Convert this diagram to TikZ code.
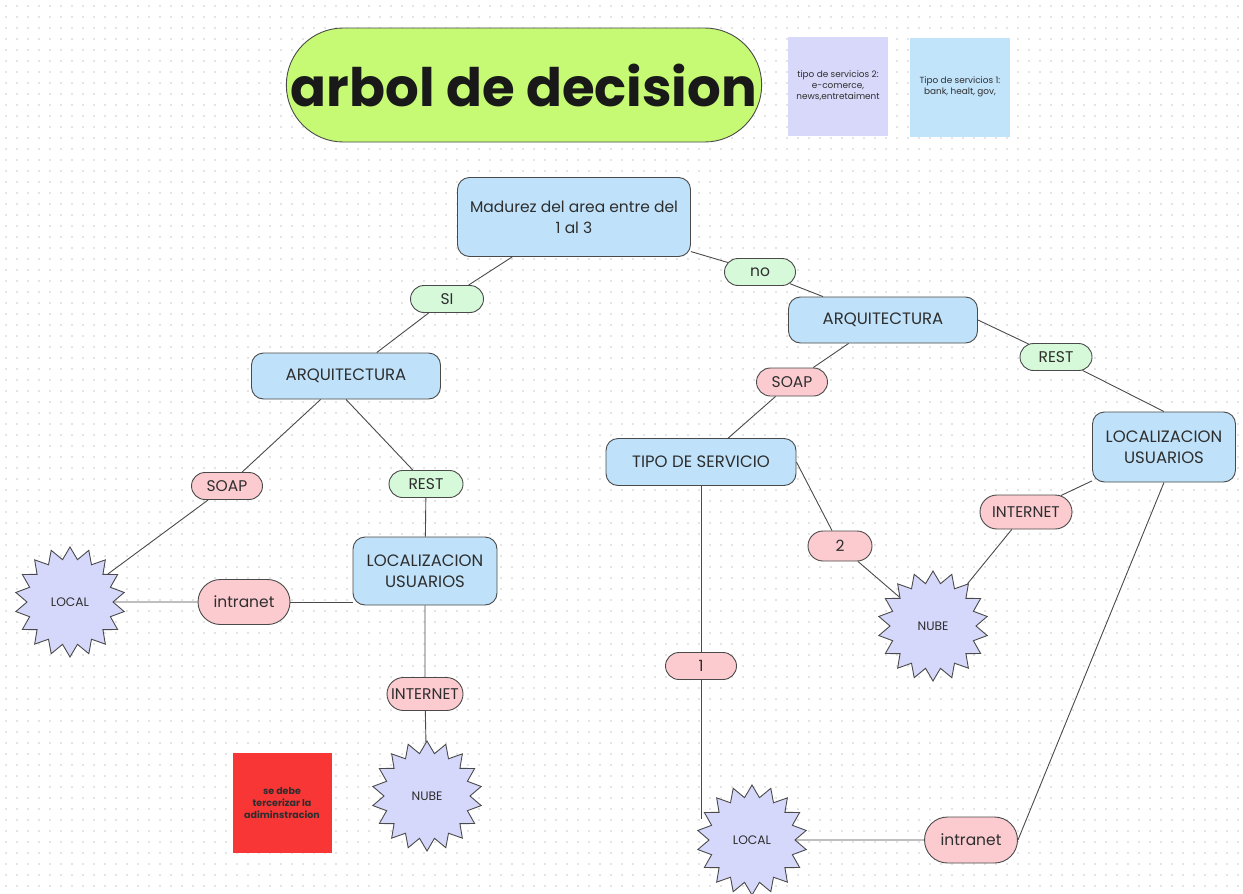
\documentclass[tikz,border=0pt]{standalone}
\usepackage{fontspec}
\setmainfont{Poppins}
\usetikzlibrary{shapes.geometric,shapes.misc}

\definecolor{edge}{HTML}{4A4A4A}
\definecolor{ink}{HTML}{2E2E2E}
\definecolor{lime}{HTML}{C7FA74}
\definecolor{boxblue}{HTML}{BFE2FA}
\definecolor{notelila}{HTML}{D8D8FA}
\definecolor{noteblue}{HTML}{C1E4FB}
\definecolor{pillgreen}{HTML}{D6F9DA}
\definecolor{pillpink}{HTML}{FBCBD0}
\definecolor{starblue}{HTML}{D5D8FB}
\definecolor{alert}{HTML}{F83636}
\definecolor{dotc}{HTML}{E4E4E4}

\begin{document}
\begin{tikzpicture}[x=1pt,y=-1pt]
    % styles of the boxes
    \tikzset{
        box/.style={draw=edge, fill=boxblue, rounded corners=12pt, line width=0.9pt,
            text=ink, align=center, font=\fontsize{16.5}{21}\selectfont},
        pill/.style={draw=edge, rounded rectangle, line width=0.9pt, inner sep=0pt,
            text=ink, font=\fontsize{15.5}{17}\selectfont},
        yes/.style={pill, fill=pillgreen},
        opt/.style={pill, fill=pillpink},
        burst/.style={star, star points=18, star point ratio=1.28, draw=edge, fill=starblue,
            line width=0.9pt, inner sep=0pt, minimum size=110pt, text=ink,
            font=\fontsize{12.3}{14}\selectfont},
        note/.style={minimum width=100pt, minimum height=99pt, inner sep=2pt, align=center,
            text=ink, font=\fontsize{8.9}{11}\selectfont},
        link/.style={draw=edge, line width=0.9pt}
    }

    % page and dotted board
    \useasboundingbox (0,0) rectangle (1243,894);
    \fill[white] (0,0) rectangle (1243,894);
    \foreach \gy in {6,17,...,894}
        \draw[dotc, line width=1.5pt, dash pattern=on 1.5pt off 9.5pt] (5,\gy) -- (1243,\gy);

    % title and notes
    \node[rounded rectangle, draw=edge, fill=lime, line width=0.9pt, minimum width=482pt,
        minimum height=114pt, font=\fontsize{53}{56}\bfseries\selectfont, text=black!90]
        (title) at (524,85) {arbol de decision};
    \node[note, fill=notelila] (notetwo) at (838,86) {tipo de servicios 2:\\e-comerce,\\news,entretaiment};
    \node[note, fill=noteblue] (noteone) at (960,87) {Tipo de servicios 1:\\bank, healt, gov,};

    % decision boxes
    \node[box, minimum width=233pt, minimum height=79pt, font=\fontsize{15.5}{21}\selectfont]
        (root) at (574,217) {Madurez del area entre del\\1 al 3};
    \node[box, minimum width=189pt, minimum height=46pt] (arqL) at (346,376) {ARQUITECTURA};
    \node[box, minimum width=189pt, minimum height=46pt] (arqR) at (883,320) {ARQUITECTURA};
    \node[box, minimum width=144pt, minimum height=68pt] (locuL) at (425,571) {LOCALIZACION\\USUARIOS};
    \node[box, minimum width=143pt, minimum height=70pt] (locuR) at (1164,447) {LOCALIZACION\\USUARIOS};
    \node[box, minimum width=190pt, minimum height=47pt] (tipo) at (701,462) {TIPO DE SERVICIO};

    % answers
    \node[yes, minimum width=73pt, minimum height=27pt] (si) at (447,299) {SI};
    \node[yes, minimum width=71pt, minimum height=27pt] (no) at (760,272) {no};
    \node[yes, minimum width=74pt, minimum height=27pt] (restL) at (426,484) {REST};
    \node[yes, minimum width=72pt, minimum height=27pt] (restR) at (1056,357) {REST};
    \node[opt, minimum width=71pt, minimum height=27pt] (soapL) at (227,486) {SOAP};
    \node[opt, minimum width=71pt, minimum height=28pt] (soapR) at (792,382) {SOAP};
    \node[opt, minimum width=92pt, minimum height=45pt] (intraL) at (244,602) {intranet};
    \node[opt, minimum width=93pt, minimum height=46pt] (intraR) at (971,840) {intranet};
    \node[opt, minimum width=76pt, minimum height=33pt] (interL) at (425,694) {INTERNET};
    \node[opt, minimum width=92pt, minimum height=34pt] (interR) at (1026,512) {INTERNET};
    \node[opt, minimum width=64pt, minimum height=30pt] (dos) at (840,546) {2};
    \node[opt, minimum width=71pt, minimum height=27pt] (uno) at (701,666) {1};

    % end points
    \node[burst] (localL) at (70,602) {LOCAL};
    \node[burst] (nubeL) at (427,796) {NUBE};
    \node[burst] (nubeR) at (933,626) {NUBE};
    \node[burst] (localR) at (752,840) {LOCAL};
    \node[fill=alert, minimum width=99pt, minimum height=100pt, align=center, text=ink,
        font=\fontsize{9.5}{12}\bfseries\selectfont] (admin) at (282,803)
        {se debe\\tercerizar la\\adiminstracion};

    % left branch
    \draw[link] (root) -- (si) -- (arqL);
    \draw[link] (arqL) -- (soapL) -- (localL);
    \draw[link] (arqL.south) -- (restL) -- (locuL);
    \draw[link] (localL) -- (intraL);
    \draw[link] (intraL.east) -- (intraL.east -| locuL.west);
    \draw[link] (locuL) -- (interL) -- (nubeL);

    % right branch
    \draw[link] (root) -- (no) -- (arqR);
    \draw[link] (arqR) -- (soapR) -- (tipo);
    \draw[link] (arqR.east) -- (restR) -- (locuR.north);
    \draw[link] (locuR) -- (interR) -- (nubeR);
    \draw[link] (tipo.east) -- (dos) -- (nubeR);
    \draw[link] (tipo.south) -- (uno.north);
    \draw[link] (uno.south) -- (uno.south |- localR.155);
    \draw[link] (localR) -- (intraR);
    \draw[link] (intraR.east) -- (locuR.south);
\end{tikzpicture}
\end{document}
